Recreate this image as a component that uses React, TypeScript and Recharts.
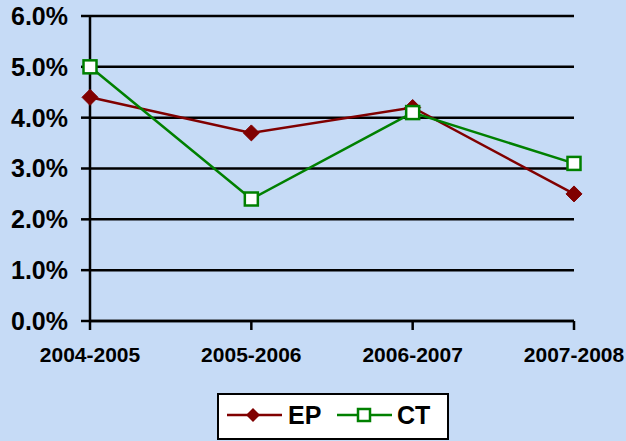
import React from 'react';
import {
  LineChart,
  Line,
  XAxis,
  YAxis,
  CartesianGrid,
  Legend
} from 'recharts';

const periods = ['2004-2005', '2005-2006', '2006-2007', '2007-2008'];
const epValues = [4.4, 3.7, 4.2, 2.5];
const ctValues = [5.0, 2.4, 4.1, 3.1];
const yTicks = [0, 1, 2, 3, 4, 5, 6];

const EP_COLOR = '#800000';
const CT_COLOR = '#008000';
const BG = '#C6DBF6';
const FONT = '"Liberation Sans", Arial, sans-serif';

const data = periods.map((p, i) => ({ period: p, EP: epValues[i], CT: ctValues[i] }));

const Diamond = (props: any) => {
  const { cx, cy } = props;
  if (cx == null || cy == null) return null;
  const r = 8;
  return (
    <path
      d={`M${cx},${cy - r} L${cx + r},${cy} L${cx},${cy + r} L${cx - r},${cy} Z`}
      fill={EP_COLOR}
      stroke={EP_COLOR}
    />
  );
};

const Square = (props: any) => {
  const { cx, cy } = props;
  if (cx == null || cy == null) return null;
  const s = 13;
  return (
    <rect
      x={cx - s / 2}
      y={cy - s / 2}
      width={s}
      height={s}
      fill="#ffffff"
      stroke={CT_COLOR}
      strokeWidth={2.5}
    />
  );
};

// legend box drawn by hand, like the original spreadsheet one
const LegendBox = () => (
  <div
    style={{
      width: 232,
      height: 47,
      boxSizing: 'border-box',
      border: '2px solid #000',
      background: '#fff'
    }}
  >
    <svg width={228} height={43} style={{ display: 'block' }}>
      <line x1={8} y1={20} x2={63} y2={20} stroke={EP_COLOR} strokeWidth={2.5} />
      <path d="M34,13 L41,20 L34,27 L27,20 Z" fill={EP_COLOR} />
      <text x={69} y={29} fontFamily={FONT} fontWeight="bold" fontSize={25} fill="#000">EP</text>
      <line x1={118} y1={20} x2={173} y2={20} stroke={CT_COLOR} strokeWidth={2.5} />
      <rect x={139} y={14} width={12} height={12} fill="#fff" stroke={CT_COLOR} strokeWidth={2.5} />
      <text x={178} y={29} fontFamily={FONT} fontWeight="bold" fontSize={25} fill="#000">CT</text>
    </svg>
  </div>
);

export default function App() {
  return (
    <div style={{ position: 'absolute', left: 0, top: 0, width: 626, height: 441, background: BG }}>
      <LineChart
        width={626}
        height={441}
        data={data}
        margin={{ top: 16, right: 52, left: 0, bottom: 13 }}
      >
        <CartesianGrid horizontal={true} vertical={false} stroke="#000" strokeWidth={2.5} />
        <XAxis
          dataKey="period"
          axisLine={{ stroke: '#000', strokeWidth: 2.5 }}
          tickLine={{ stroke: '#000', strokeWidth: 2.5 }}
          tickSize={9}
          tickMargin={17}
          tick={{ fill: '#000', fontSize: 21, fontWeight: 'bold', fontFamily: FONT }}
          height={60}
        />
        <YAxis
          domain={[0, 6]}
          ticks={yTicks}
          width={90}
          axisLine={{ stroke: '#000', strokeWidth: 2.5 }}
          tickLine={{ stroke: '#000', strokeWidth: 2.5 }}
          tickSize={9}
          tickMargin={13}
          tickFormatter={(v: number) => `${v.toFixed(1)}%`}
          tick={{ fill: '#000', fontSize: 25, fontWeight: 'bold', fontFamily: FONT }}
        />
        <Legend
          content={<LegendBox />}
          wrapperStyle={{ position: 'absolute', left: 217, top: 393, width: 232 }}
        />
        <Line
          dataKey="EP"
          type="linear"
          stroke={EP_COLOR}
          strokeWidth={2.5}
          dot={<Diamond />}
          isAnimationActive={false}
        />
        <Line
          dataKey="CT"
          type="linear"
          stroke={CT_COLOR}
          strokeWidth={2.5}
          dot={<Square />}
          isAnimationActive={false}
        />
      </LineChart>
    </div>
  );
}
